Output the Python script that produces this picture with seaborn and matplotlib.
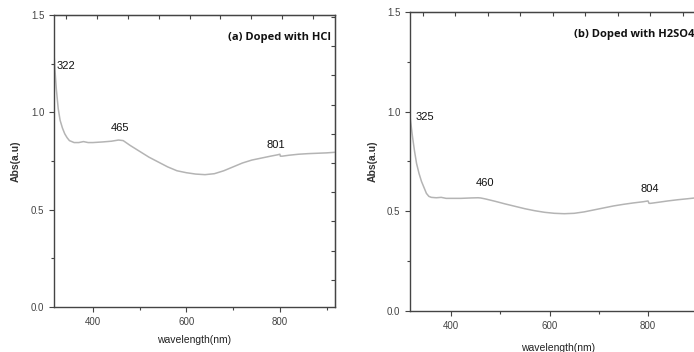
# -*- coding: utf-8 -*-
#  UV-vis absorbance of doped samples, two panels side by side.
import pandas as pan
import seaborn as sns
import matplotlib.pyplot as plt

# panel (a) doped with HCl
wl_hcl = [317, 319, 322, 326, 330, 335, 340, 345, 350, 360, 370, 380, 390, 400,
          420, 440, 455, 465, 480, 500, 520, 540, 560, 580, 600, 620, 640, 660,
          680, 700, 720, 740, 760, 780, 795, 800, 801, 805, 820, 840, 860, 880,
          900, 918]
abs_hcl = [1.30, 1.22, 1.12, 1.02, 0.96, 0.92, 0.89, 0.87, 0.855, 0.845, 0.845,
           0.85, 0.845, 0.845, 0.848, 0.852, 0.858, 0.855, 0.83, 0.80, 0.77,
           0.745, 0.72, 0.70, 0.69, 0.683, 0.68, 0.685, 0.70, 0.72, 0.74, 0.755,
           0.765, 0.775, 0.782, 0.785, 0.775, 0.775, 0.78, 0.785, 0.788, 0.79,
           0.792, 0.795]
peaks_hcl = [322, 465, 801]

# panel (b) doped with H2SO4
wl_h2so4 = [317, 319, 322, 326, 330, 335, 340, 345, 350, 355, 360, 370, 380, 390,
            400, 420, 440, 455, 460, 470, 490, 510, 530, 550, 570, 590, 610, 630,
            650, 670, 690, 710, 730, 750, 770, 790, 800, 802, 805, 820, 840, 860,
            880, 895, 918]
abs_h2so4 = [0.97, 0.93, 0.87, 0.80, 0.74, 0.69, 0.65, 0.62, 0.59, 0.575, 0.57,
             0.568, 0.57, 0.565, 0.565, 0.565, 0.567, 0.568, 0.567, 0.562, 0.55,
             0.537, 0.525, 0.513, 0.503, 0.495, 0.49, 0.488, 0.49, 0.497, 0.507,
             0.517, 0.527, 0.535, 0.542, 0.548, 0.552, 0.54, 0.54, 0.545, 0.552,
             0.558, 0.563, 0.567, 0.572]
peaks_h2so4 = [325, 460, 804]

sns.set_style('ticks')
plt.rcParams['font.family'] = ['Liberation Sans', 'DejaVu Sans']

LINE = '#b4b4b4'
SPINE = '#444444'


def make_panel(fig, rect, wl, absb, peaks, peak_xy, title, title_xy, title_ha, xpad):
  ax = fig.add_axes(rect)
  df = pan.DataFrame({'wavelength': wl, 'abs': absb})
  sns.lineplot(data=df, x='wavelength', y='abs', color=LINE, lw=1.1, ax=ax)
  ax.set_xlim(317, 918)
  ax.set_ylim(0, 1.5)
  ax.set_xticks([400, 600, 800])
  ax.set_xticks([500, 700, 900], minor=True)
  ax.set_yticks([0.0, 0.5, 1.0, 1.5])
  ax.set_yticks([0.25, 0.75, 1.25], minor=True)
  ax.tick_params(which='both', labelsize=7, colors=SPINE, width=0.8)
  ax.tick_params(which='major', length=3.5)
  ax.tick_params(which='minor', length=2.5)
  for s in ax.spines.values():
    s.set_color(SPINE)
    s.set_linewidth(1.0)
  # extra ticks on top and right edges
  top = ax.secondary_xaxis('top')
  top.set_xticks([343 + 66 * k for k in range(9)])
  top.tick_params(direction='in', length=3, labeltop=False, colors=SPINE, width=0.8)
  right = ax.secondary_yaxis('right')
  right.set_yticks([1.49 - 0.15 * k for k in range(10)])
  right.tick_params(direction='in', length=3, labelright=False, colors=SPINE, width=0.8)
  ax.set_xlabel('wavelength(nm)', fontsize=7.5, color='#222222', labelpad=xpad)
  ax.set_ylabel('Abs(a.u)', fontsize=7.5, color='#333333', fontweight='bold', labelpad=7)
  for p, (tx, ty, ha) in zip(peaks, peak_xy):
    ax.text(tx, ty, str(p), fontsize=8, ha=ha, va='center', color='#111111')
  ax.text(title_xy[0], title_xy[1], title, fontsize=8, fontweight='bold',
          family=['Open Sans', 'DejaVu Sans'], ha=title_ha, va='center',
          transform=ax.transAxes, color='#111111')
  return ax


fig = plt.figure(figsize=(6.94, 3.52), dpi=100)

make_panel(fig, [0.0778, 0.128, 0.405, 0.829], wl_hcl, abs_hcl, peaks_hcl,
           [(323, 1.24, 'left'), (458, 0.92, 'center'), (791, 0.83, 'center')],
           '(a) Doped with HCl', (0.985, 0.925), 'right', 6)

make_panel(fig, [0.591, 0.1165, 0.4265, 0.8495], wl_h2so4, abs_h2so4, peaks_h2so4,
           [(327, 0.975, 'left'), (469, 0.64, 'center'), (804, 0.61, 'center')],
           '(b) Doped with H2SO4', (0.552, 0.925), 'left', 9)

fig.savefig('out.png', dpi=100)
